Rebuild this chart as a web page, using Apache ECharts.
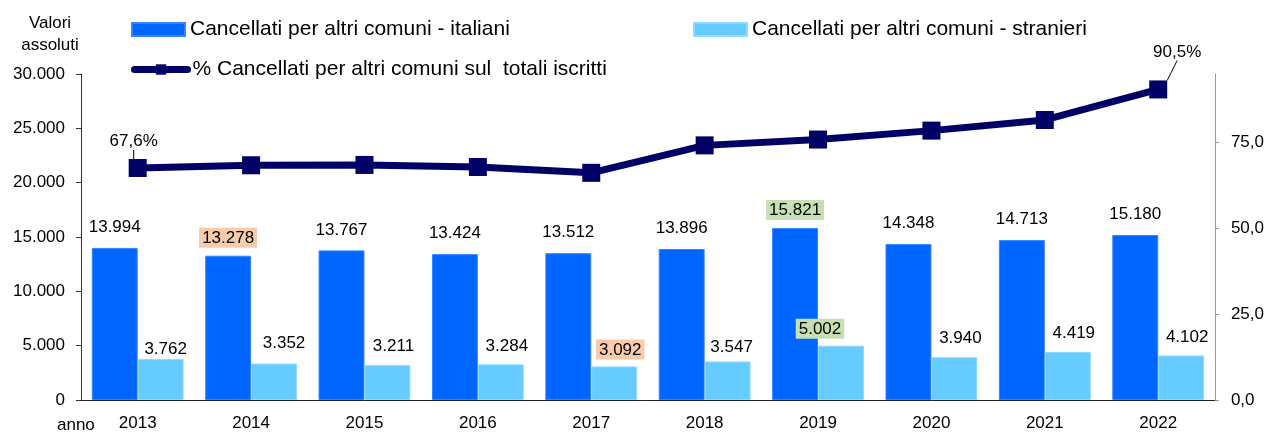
<!DOCTYPE html>
<html>
<head>
<meta charset="utf-8">
<script src="https://cdn.jsdelivr.net/npm/echarts@6/dist/echarts.min.js"></script>
<style>
  html, body { margin: 0; padding: 0; background: #fff; }
  #main { width: 1267px; height: 432px; }
</style>
</head>
<body>
<div id="main"></div>
<script>
    // data
    var anni = ['2013', '2014', '2015', '2016', '2017', '2018', '2019', '2020', '2021', '2022'];
    var italiani = [13994, 13278, 13767, 13424, 13512, 13896, 15821, 14348, 14713, 15180];
    var stranieri = [3762, 3352, 3211, 3284, 3092, 3547, 5002, 3940, 4419, 4102];
    var percentuale = [67.6, 68.4, 68.5, 67.9, 66.2, 74.2, 75.9, 78.5, 81.6, 90.5];
    var tickDestra = [0, 25, 50, 75];

    var font = '"Liberation Sans", Arial, sans-serif';
    var peach = '#F8CBAD';
    var green = '#C6E0B4';

    // highlighted labels (index -> background)
    var evidItaliani = {1: peach, 6: green};
    var evidStranieri = {4: peach, 6: green};
    // small manual nudges of the foreign labels, like in the original
    var spostaStranieri = {0: [5, 9], 1: [10, -2], 6: [-21, 0], 5: [4, 4]};

    function migliaia(v) {
        return String(v).replace(/\B(?=(\d{3})+(?!\d))/g, '.');
    }

    var chartDom = document.getElementById('main');
    var myChart = echarts.init(chartDom);

    var datiItaliani = italiani.map(function (v, i) {
        var item = {value: v};
        if (evidItaliani[i]) {
            item.label = {backgroundColor: evidItaliani[i], padding: [2, 3, 1, 3], distance: 8};
        }
        return item;
    });

    var datiStranieri = stranieri.map(function (v, i) {
        var item = {value: v, label: {offset: spostaStranieri[i] || [6, 0]}};
        if (evidStranieri[i]) {
            item.label.backgroundColor = evidStranieri[i];
            item.label.padding = [2, 3, 1, 3];
            item.label.distance = 7;
        }
        return item;
    });

    var datiPerc = percentuale.map(function (v, i) {
        var item = {value: v};
        if (i === 0 || i === percentuale.length - 1) {
            item.label = {show: true};
        }
        return item;
    });

    var legendText = {fontSize: 21, color: '#000', fontFamily: font};

    var option = {
        animation: false,
        textStyle: {fontFamily: font},
        grid: {left: 81, right: 51, top: 74, bottom: 30},
        legend: [
            {
                data: [{name: 'Cancellati per altri comuni - italiani', icon: 'rect'}],
                left: 131, top: 19, padding: 0,
                itemWidth: 53, itemHeight: 13,
                textStyle: legendText
            },
            {
                data: [{name: 'Cancellati per altri comuni - stranieri', icon: 'rect'}],
                left: 693, top: 19, padding: 0,
                itemWidth: 53, itemHeight: 13,
                textStyle: legendText
            },
            {
                data: ['% Cancellati per altri comuni sul  totali iscritti'],
                left: 131, top: 59, padding: 0,
                itemWidth: 53, itemHeight: 13,
                lineStyle: {width: 7, cap: 'round'},
                textStyle: legendText
            }
        ],
        graphic: [
            {
                type: 'text', x: 50, y: 12,
                style: {
                    text: 'Valori\nassoluti', align: 'center',
                    font: '17px ' + font, lineHeight: 22, fill: '#000'
                }
            },
            {
                type: 'text', left: 57, top: 417,
                style: {text: 'anno', font: '17px ' + font, fill: '#000'}
            }
        ],
        xAxis: {
            type: 'category',
            data: anni,
            axisLine: {lineStyle: {color: '#222', width: 1}},
            axisTick: {length: 4, lineStyle: {color: '#222'}},
            axisLabel: {fontSize: 17, color: '#000', margin: 15}
        },
        yAxis: [
            {
                type: 'value', min: 0, max: 30000, interval: 5000,
                splitLine: {show: false},
                axisLine: {show: true, lineStyle: {color: '#333'}},
                axisTick: {show: true, length: 5, lineStyle: {color: '#333'}},
                axisLabel: {fontSize: 17, color: '#000', margin: 16, formatter: migliaia}
            },
            {
                type: 'value', min: 0, max: 95,
                position: 'right',
                splitLine: {show: false},
                axisLine: {show: true, lineStyle: {color: '#999'}},
                axisTick: {show: true, length: 4, lineStyle: {color: '#999'}, customValues: tickDestra},
                axisLabel: {
                    fontSize: 17, color: '#000', margin: 16, customValues: tickDestra,
                    formatter: function (v) { return v + ',0'; }
                }
            }
        ],
        series: [
            {
                name: 'Cancellati per altri comuni - italiani',
                type: 'bar',
                barCategoryGap: '19%',
                barGap: '0%',
                itemStyle: {color: '#0066FF', borderColor: '#3385ff', borderWidth: 1},
                label: {
                    show: true, position: 'top', distance: 12,
                    fontSize: 17, color: '#000', fontFamily: font,
                    formatter: function (p) { return migliaia(p.value); }
                },
                data: datiItaliani
            },
            {
                name: 'Cancellati per altri comuni - stranieri',
                type: 'bar',
                barCategoryGap: '19%',
                barGap: '0%',
                itemStyle: {color: '#66CCFF', borderColor: '#8fdbff', borderWidth: 1},
                label: {
                    show: true, position: 'top', distance: 10,
                    fontSize: 17, color: '#000', fontFamily: font,
                    formatter: function (p) { return migliaia(p.value); }
                },
                data: datiStranieri
            },
            {
                name: '% Cancellati per altri comuni sul  totali iscritti',
                type: 'line',
                yAxisIndex: 1,
                symbol: 'rect',
                symbolSize: 18,
                z: 5,
                lineStyle: {color: '#000066', width: 7},
                itemStyle: {color: '#000066'},
                label: {
                    show: false, position: 'top', fontSize: 17, color: '#000',
                    fontFamily: font,
                    formatter: function (p) { return String(p.value).replace('.', ',') + '%'; }
                },
                labelLine: {show: true, lineStyle: {color: '#000', width: 1}},
                labelLayout: function (p) {
                    if (p.dataIndex === 0) return {dx: -4, dy: -4};
                    if (p.dataIndex === percentuale.length - 1) return {dx: 19, dy: -15};
                },
                data: datiPerc
            }
        ]
    };

    myChart.setOption(option);
</script>
</body>
</html>
